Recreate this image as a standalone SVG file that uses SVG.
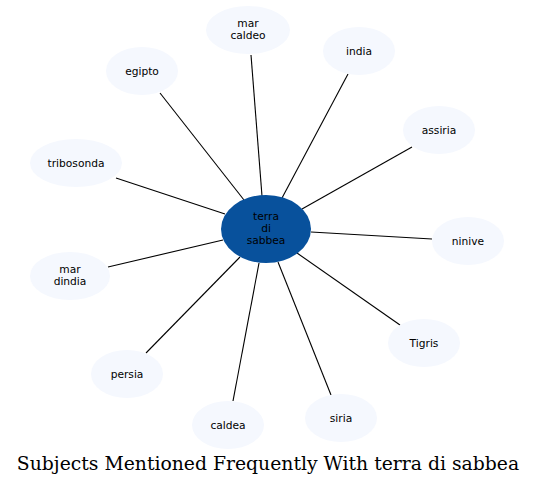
<svg xmlns="http://www.w3.org/2000/svg" width="536" height="486" viewBox="0 0 536 486">
<style>
.n ellipse{fill:#f5f8fe;stroke:none}
.c ellipse{fill:#08519c;stroke:none}
text{font-family:"DejaVu Sans",sans-serif;font-size:10.67px;text-anchor:middle;fill:#000}
.e line{stroke:#000;stroke-width:1.1}
.t{font-family:"DejaVu Serif",serif;font-size:18.8px}
</style>
<rect width="536" height="486" fill="#fff"/>
<g class="e" id="edges">
<line x1="262" y1="196" x2="251" y2="55"/>
<line x1="282" y1="198" x2="348" y2="74"/>
<line x1="244" y1="200" x2="160" y2="93"/>
<line x1="302" y1="209" x2="412" y2="147"/>
<line x1="225" y1="214" x2="116" y2="178"/>
<line x1="311" y1="232" x2="432" y2="239"/>
<line x1="223" y1="240" x2="108" y2="267"/>
<line x1="297" y1="253" x2="400" y2="325"/>
<line x1="240" y1="257" x2="146" y2="353"/>
<line x1="259" y1="263" x2="233" y2="401"/>
<line x1="278" y1="262" x2="331" y2="395"/>
</g>
<g class="c" id="n-center"><ellipse cx="266" cy="229" rx="45" ry="34"/><text x="266" y="220">terra</text><text x="266" y="232">di</text><text x="266" y="244">sabbea</text></g>
<g class="n" id="n-marcaldeo"><ellipse cx="248" cy="30" rx="42" ry="24"/><text x="248" y="27">mar</text><text x="248" y="39">caldeo</text></g>
<g class="n" id="n-india"><ellipse cx="359" cy="51" rx="36" ry="24"/><text x="359" y="55">india</text></g>
<g class="n" id="n-egipto"><ellipse cx="142" cy="71" rx="36" ry="24"/><text x="142" y="75">egipto</text></g>
<g class="n" id="n-assiria"><ellipse cx="439" cy="130" rx="36" ry="24"/><text x="439" y="134">assiria</text></g>
<g class="n" id="n-tribosonda"><ellipse cx="76" cy="163" rx="46" ry="24"/><text x="76" y="167">tribosonda</text></g>
<g class="n" id="n-ninive"><ellipse cx="468" cy="241" rx="36" ry="24"/><text x="468" y="245">ninive</text></g>
<g class="n" id="n-mardindia"><ellipse cx="70" cy="276" rx="40" ry="24"/><text x="70" y="273">mar</text><text x="70" y="285">dindia</text></g>
<g class="n" id="n-tigris"><ellipse cx="424" cy="343" rx="36" ry="24"/><text x="424" y="347">Tigris</text></g>
<g class="n" id="n-persia"><ellipse cx="127" cy="374" rx="36" ry="24"/><text x="127" y="378">persia</text></g>
<g class="n" id="n-caldea"><ellipse cx="228" cy="425" rx="36" ry="24"/><text x="228" y="429">caldea</text></g>
<g class="n" id="n-siria"><ellipse cx="341" cy="418" rx="36" ry="24"/><text x="341" y="422">siria</text></g>
<text class="t" x="268" y="470">Subjects Mentioned Frequently With terra di sabbea</text>
</svg>
